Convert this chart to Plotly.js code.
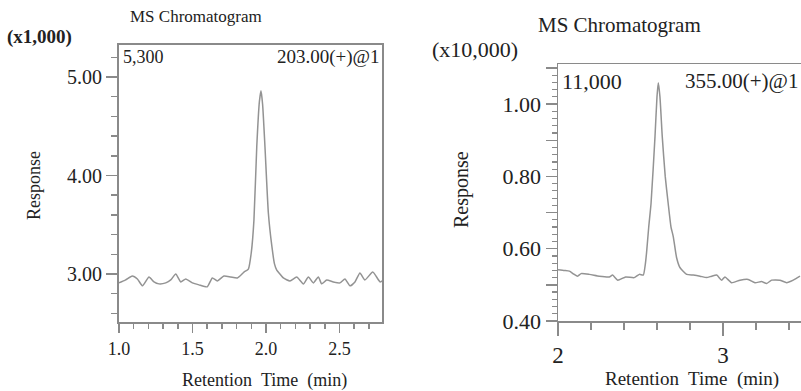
<!DOCTYPE html>
<html>
<head>
<meta charset="utf-8">
<script src="https://cdn.plot.ly/plotly-3.0.1.min.js"></script>
<style>html,body{margin:0;padding:0;background:#fff;}#chart{width:801px;height:391px;}</style>
</head>
<body>
<div id="chart"></div>
<script>
// Left chromatogram (m/z 203.00), response in x1,000
const timeLeft = [1.00,1.045,1.09,1.125,1.16,1.204,1.238,1.272,1.318,1.352,1.386,1.42,1.454,1.499,1.544,1.60,1.635,1.669,1.714,1.76,1.805,1.85,1.88,1.90,1.918,1.937,1.955,1.966,1.977,1.993,2.016,2.04,2.058,2.073,2.095,2.118,2.163,2.209,2.254,2.288,2.322,2.356,2.379,2.413,2.458,2.503,2.537,2.571,2.605,2.639,2.673,2.726,2.776,2.79];
const respLeft = [2.91,2.94,2.98,2.95,2.88,2.97,2.92,2.90,2.91,2.94,3.00,2.92,2.95,2.91,2.89,2.87,2.96,2.93,2.98,2.97,2.96,3.02,3.05,3.22,3.55,4.29,4.75,4.86,4.72,4.29,3.62,3.28,3.10,3.04,3.00,2.96,2.93,2.97,2.90,2.97,2.91,2.97,2.90,2.94,2.92,2.91,2.95,2.88,2.92,3.01,2.94,3.02,2.92,2.93];

// Right chromatogram (m/z 355.00), response in x10,000
const timeRight = [2.00,2.04,2.069,2.095,2.119,2.14,2.19,2.25,2.311,2.331,2.362,2.41,2.462,2.493,2.517,2.529,2.537,2.55,2.564,2.588,2.60,2.608,2.618,2.632,2.65,2.668,2.685,2.699,2.719,2.739,2.78,2.82,2.861,2.901,2.931,2.962,2.992,3.012,3.052,3.103,3.153,3.194,3.234,3.265,3.295,3.345,3.386,3.426,3.467];
const respRight = [0.542,0.540,0.538,0.530,0.524,0.531,0.529,0.524,0.522,0.527,0.513,0.522,0.520,0.529,0.527,0.556,0.59,0.66,0.725,0.91,1.02,1.059,1.02,0.91,0.80,0.725,0.66,0.633,0.575,0.548,0.529,0.527,0.524,0.520,0.524,0.527,0.513,0.522,0.506,0.513,0.515,0.506,0.509,0.504,0.513,0.513,0.506,0.513,0.524];

// Tick labels
const leftXTickVals = [1.0,1.5,2.0,2.5];
const leftXTickText = ['1.0','1.5','2.0','2.5'];
const leftYTickVals = [3,4,5];
const leftYTickText = ['3.00','4.00','5.00'];
const rightXTickVals = [2,3];
const rightXTickText = ['2','3'];
const rightYTickVals = [0.4,0.5,0.6,0.7,0.8,0.9,1.0,1.1];
const rightYTickText = ['0.40','','0.60','','0.80','','1.00',''];

const W = 801, H = 391;
const px = v => v / W;
const py = v => 1 - v / H;
const SERIF = 'Liberation Serif, Times New Roman, serif';
const AX = '#8a8a8a';
const LINE = '#939393';

const traces = [
  {x: timeLeft, y: respLeft, xaxis: 'x', yaxis: 'y', mode: 'lines',
   line: {color: LINE, width: 1.5, shape: 'spline', smoothing: 0.5}, hoverinfo: 'skip'},
  {x: timeRight, y: respRight, xaxis: 'x2', yaxis: 'y2', mode: 'lines',
   line: {color: LINE, width: 1.5, shape: 'spline', smoothing: 0.5}, hoverinfo: 'skip'}
];

function ann(text, x, y, size, opts) {
  return Object.assign({text: text, x: px(x), y: py(y), xref: 'paper', yref: 'paper',
    showarrow: false, font: {family: SERIF, size: size, color: '#222'},
    xanchor: 'center', yanchor: 'middle'}, opts || {});
}

const layout = {
  width: W, height: H,
  margin: {l: 0, r: 0, t: 0, b: 0},
  paper_bgcolor: '#fff', plot_bgcolor: '#fff',
  showlegend: false,
  font: {family: SERIF, color: '#222'},
  xaxis: {
    domain: [px(119), px(382)], range: [1.0, 2.789], anchor: 'y',
    showline: true, linecolor: AX, linewidth: 2, mirror: true,
    showgrid: false, zeroline: false,
    tickmode: 'array', tickvals: leftXTickVals, ticktext: leftXTickText,
    ticks: 'outside', ticklen: 9, tickwidth: 1.5, tickcolor: AX,
    tickfont: {family: SERIF, size: 18, color: '#222'},
    minor: {ticks: 'outside', tick0: 1.0, dtick: 0.1, ticklen: 5, tickwidth: 1.5, tickcolor: AX, showgrid: false}
  },
  yaxis: {
    domain: [py(322), py(45)], range: [2.513, 5.325], anchor: 'x',
    showline: true, linecolor: AX, linewidth: 2, mirror: true,
    showgrid: false, zeroline: false,
    tickmode: 'array', tickvals: leftYTickVals, ticktext: leftYTickText,
    ticks: 'outside', ticklen: 11, tickwidth: 1.5, tickcolor: AX,
    tickfont: {family: SERIF, size: 20, color: '#222'},
    minor: {ticks: 'outside', tick0: 0, dtick: 0.2, ticklen: 6, tickwidth: 1.5, tickcolor: AX, showgrid: false}
  },
  xaxis2: {
    domain: [px(558), 1], range: [2, 3.473], anchor: 'y2',
    showline: true, linecolor: AX, linewidth: 1.5, mirror: true,
    showgrid: false, zeroline: false,
    tickmode: 'array', tickvals: rightXTickVals, ticktext: rightXTickText,
    ticks: 'outside', ticklen: 13, tickwidth: 1.5, tickcolor: AX,
    tickfont: {family: SERIF, size: 23, color: '#222'},
    minor: {ticks: 'outside', tick0: 2, dtick: 0.2, ticklen: 7, tickwidth: 1.5, tickcolor: AX, showgrid: false}
  },
  yaxis2: {
    domain: [py(321), py(64)], range: [0.40, 1.111], anchor: 'x2',
    showline: true, linecolor: AX, linewidth: 1.5, mirror: false,
    showgrid: false, zeroline: false,
    tickmode: 'array', tickvals: rightYTickVals, ticktext: rightYTickText,
    ticks: 'outside', ticklen: 11, tickwidth: 1.5, tickcolor: AX,
    tickfont: {family: SERIF, size: 22, color: '#222'},
    minor: {ticks: 'outside', tick0: 0.4, dtick: 0.02, ticklen: 5, tickwidth: 1.2, tickcolor: AX, showgrid: false}
  },
  annotations: [
    ann('MS Chromatogram', 196, 17, 17),
    ann('<b>(x1,000)</b>', 39, 37, 19),
    ann('Response', 34, 186, 18, {textangle: -90}),
    ann('Retention\u00a0\u00a0Time\u00a0\u00a0(min)', 264, 380, 18),
    ann('5,300', 121, 57, 18, {xanchor: 'left'}),
    ann('203.00(+)@1', 382, 57, 19, {xanchor: 'right'}),
    ann('MS Chromatogram', 619, 25, 21),
    ann('(x10,000)', 475, 50, 22),
    ann('Response', 462, 190, 20, {textangle: -90}),
    ann('Retention\u00a0 Time\u00a0 (min)', 692, 379, 19),
    ann('11,000', 560, 81, 22, {xanchor: 'left'}),
    ann('355.00(+)@1', 683, 81, 21, {xanchor: 'left'})
  ]
};

Plotly.newPlot('chart', traces, layout, {staticPlot: true, displayModeBar: false});
</script>
</body>
</html>
